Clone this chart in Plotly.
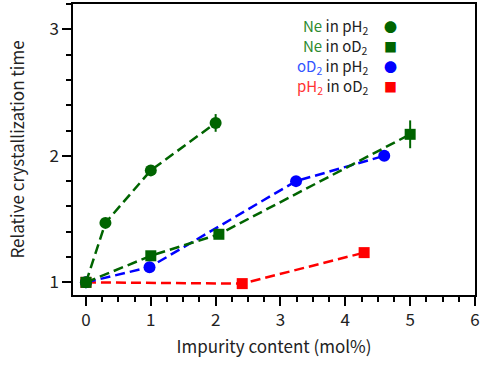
import plotly.graph_objects as go

# 데이터
ne_ph2_x = [0, 0.3, 1, 2]
ne_ph2_y = [1.0, 1.47, 1.885, 2.26]
ne_ph2_err = [0, 0, 0, 0.07]

ne_od2_x = [0, 1, 2.05, 5]
ne_od2_y = [1.0, 1.21, 1.38, 2.17]
ne_od2_err = [0, 0.03, 0.02, 0.11]

od2_ph2_x = [0, 0.98, 3.24, 4.6]
od2_ph2_y = [1.0, 1.12, 1.80, 2.0]

ph2_od2_x = [0, 2.41, 4.29]
ph2_od2_y = [1.0, 0.99, 1.235]

GREEN = '#006400'
BLUE = '#0000ff'
RED = '#ff0000'
FONT = 'Noto Sans CJK JP'
DASH = '10px,5px'

fig = go.Figure()

# 그리는 순서: 빨강 -> 파랑 -> 초록(사각) -> 초록(원)
fig.add_trace(go.Scatter(
    x=ph2_od2_x, y=ph2_od2_y, mode='lines+markers',
    line=dict(color=RED, width=2.5, dash=DASH),
    marker=dict(symbol='square', size=11, color=RED)
))
fig.add_trace(go.Scatter(
    x=od2_ph2_x, y=od2_ph2_y, mode='lines+markers',
    line=dict(color=BLUE, width=2.5, dash=DASH),
    marker=dict(symbol='circle', size=12, color=BLUE)
))
fig.add_trace(go.Scatter(
    x=ne_od2_x, y=ne_od2_y, mode='lines+markers',
    line=dict(color=GREEN, width=2.5, dash=DASH),
    marker=dict(symbol='square', size=11, color=GREEN),
    error_y=dict(type='data', array=ne_od2_err, color=GREEN, thickness=2, width=0)
))
fig.add_trace(go.Scatter(
    x=ne_ph2_x, y=ne_ph2_y, mode='lines+markers',
    line=dict(color=GREEN, width=2.5, dash=DASH),
    marker=dict(symbol='circle', size=12, color=GREEN),
    error_y=dict(type='data', array=ne_ph2_err, color=GREEN, thickness=2, width=0)
))

# 범례 (기호가 오른쪽에 있으므로 주석으로 작성)
legend_rows = [
    ("<span style='color:#2e8b2e'>Ne</span> in pH<sub>2</sub>", '●', GREEN),
    ("<span style='color:#2e8b2e'>Ne</span> in oD<sub>2</sub>", '■', GREEN),
    ("<span style='color:#3355ff'>oD<sub>2</sub></span> in pH<sub>2</sub>", '●', BLUE),
    ("<span style='color:#ff3333'>pH<sub>2</sub></span> in oD<sub>2</sub>", '■', RED),
]
for i, (label, sym, col) in enumerate(legend_rows):
    yy = 0.922 - i * 0.068
    fig.add_annotation(x=0.74, y=yy, xref='paper', yref='paper', text=label,
                       showarrow=False, xanchor='right', yanchor='middle',
                       font=dict(family=FONT, size=15, color='#222'))
    fig.add_annotation(x=0.79, y=yy, xref='paper', yref='paper', text=sym,
                       showarrow=False, xanchor='center', yanchor='middle',
                       font=dict(family=FONT, size=13, color=col))

axis_common = dict(
    showline=True, linecolor='black', linewidth=1.5, mirror=True,
    ticks='outside', tickcolor='black', tickwidth=1.5, ticklen=9,
    showgrid=False, zeroline=False,
    tickfont=dict(family=FONT, size=17, color='#222'),
)

fig.update_layout(
    width=491, height=365,
    margin=dict(l=73, r=16, t=4, b=70, autoexpand=False),
    plot_bgcolor='white', paper_bgcolor='white',
    showlegend=False,
    xaxis=dict(range=[-0.2, 6], dtick=1,
               title=dict(text='Impurity content (mol%)', font=dict(family=FONT, size=17, color='#222'), standoff=11),
               minor=dict(dtick=0.25, ticks='outside', ticklen=5, tickcolor='black', tickwidth=1.5),
               **axis_common),
    yaxis=dict(range=[0.9, 3.2], dtick=1,
               title=dict(text='Relative crystallization time', font=dict(family=FONT, size=17, color='#222'), standoff=20),
               minor=dict(dtick=0.2, ticks='outside', ticklen=5, tickcolor='black', tickwidth=1.5),
               **axis_common),
)

# 페이지 기본 여백 제거
fig.write_html("out.html", config={'displayModeBar': False},
               post_script="document.body.style.margin='0';")
